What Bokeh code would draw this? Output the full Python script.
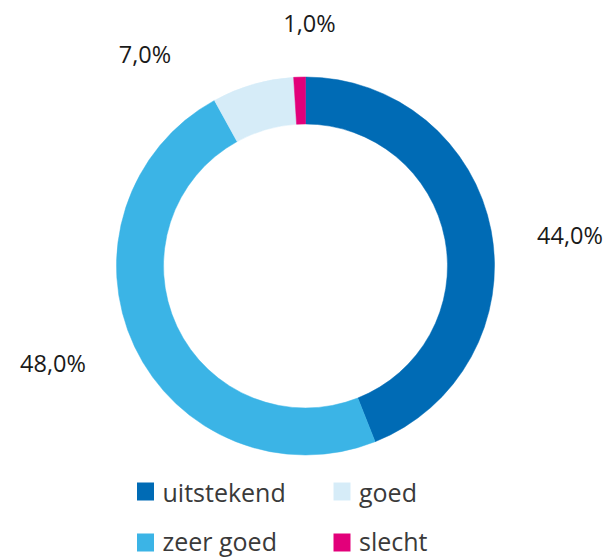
import math
from bokeh.plotting import figure
from bokeh.models import ColumnDataSource
from bokeh.core.properties import value
from bokeh.embed import file_html
from bokeh.resources import INLINE

# ---- data ----
categories = ["uitstekend", "zeer goed", "goed", "slecht"]
shares = [44.0, 48.0, 7.0, 1.0]
colors = ["#006bb5", "#3bb4e6", "#d6ecf8", "#e2007a"]

W, H = 607, 558
p = figure(width=W, height=H, x_range=(0, W), y_range=(0, H),
           output_backend="svg", toolbar_location=None, min_border=0)
p.axis.visible = False
p.grid.visible = False
p.outline_line_color = None
p.background_fill_color = "white"
p.border_fill_color = "white"

cx, cy = 305, 292.5
r_in, r_out = 142, 189

total = sum(shares)
starts, ends, cum = [], [], 0.0
for s in shares:
    starts.append(math.pi / 2 - 2 * math.pi * cum / total)
    cum += s
    ends.append(math.pi / 2 - 2 * math.pi * cum / total)

src = ColumnDataSource(dict(start=starts, end=ends, color=colors, cat=categories))
p.annular_wedge(x=cx, y=cy, inner_radius=r_in, outer_radius=r_out,
                start_angle="start", end_angle="end", direction="clock",
                fill_color="color", line_color="color", line_width=0.5, source=src)

# value labels (layout positions)
label_pos = [(569.5, 323.5), (52.5, 195.5), (144.5, 505), (309, 536)]
lab = ColumnDataSource(dict(
    x=[q[0] for q in label_pos], y=[q[1] for q in label_pos],
    t=[("%.1f" % s).replace(".", ",") + "%" for s in shares]))
p.text(x="x", y="y", text="t", source=lab, text_align="center",
       text_baseline="middle", text_font=value("Open Sans"),
       text_font_size="23.5px", text_color="#1a1a1a")

# legend
col_x = [145, 341.5]
row_y = [67, 16]
text_dy = [0, 2]
lx, ly, tx, ty = [], [], [], []
for i, c in enumerate(categories):
    col, row = i // 2, i % 2
    lx.append(col_x[col])
    ly.append(row_y[row])
    tx.append(col_x[col] + 17)
    ty.append(row_y[row] + text_dy[row])
leg = ColumnDataSource(dict(x=lx, y=ly, tx=tx, ty=ty, color=colors, cat=categories))
p.rect(x="x", y="y", width=17, height=18, fill_color="color", line_color=None, source=leg)
p.text(x="tx", y="ty", text="cat", source=leg, text_align="left",
       text_baseline="middle", text_font=value("Open Sans"),
       text_font_size="25px", text_color="#3a3a3a")

open("out.html", "w").write(file_html(p, INLINE))
